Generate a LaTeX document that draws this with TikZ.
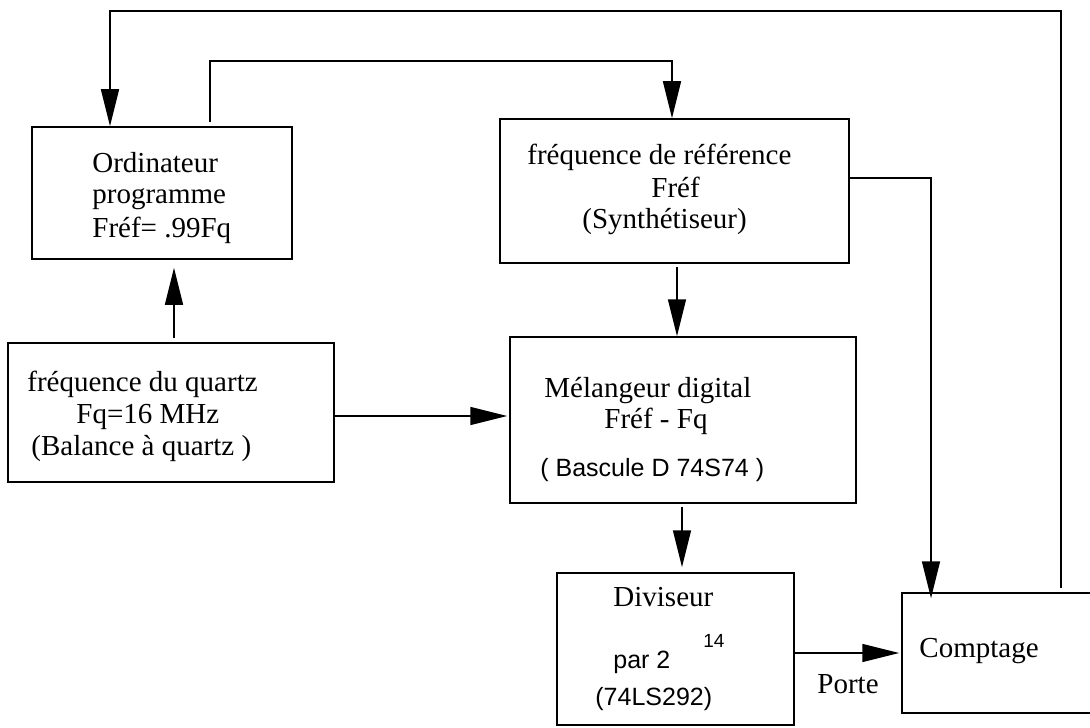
\documentclass[tikz,border=0pt]{standalone}
\usepackage{fontspec}
\setmainfont{Liberation Serif}
\setsansfont{Liberation Sans}
\usetikzlibrary{arrows.meta,calc}
\begin{document}
\begin{tikzpicture}[x=0.5pt,y=-0.5pt,
  box/.style={draw,line width=0.75pt,inner sep=0pt},
  arr/.style={line width=0.75pt,-{Triangle[length=18.5pt,width=9pt]}},
  txt/.style={anchor=base west,inner sep=0pt,font=\fontsize{14.5}{17}\selectfont},
  stxt/.style={anchor=base west,inner sep=0pt,font=\sffamily\fontsize{12.5}{15}\selectfont},
  supx/.style={anchor=base west,inner sep=0pt,font=\sffamily\fontsize{9.5}{11}\selectfont}]
\useasboundingbox (0,0) rectangle (1090,727);

% boxes
\node[box,minimum width=130pt,minimum height=66pt] (ord) at (162,193) {};
\node[box,minimum width=174.5pt,minimum height=72pt] (ref) at (674.5,191) {};
\node[box,minimum width=163pt,minimum height=69.5pt] (quartz) at (171,412.5) {};
\node[box,minimum width=173pt,minimum height=83pt] (mel) at (683,420) {};
\node[box,minimum width=118.5pt,minimum height=76pt] (div) at (675.5,649) {};
\node[box,minimum width=104pt,minimum height=60pt] (comp) at (1006,653) {};

% texts
\node[txt] (t1) at (92,173) {Ordinateur};
\node[txt] (t2) at (92,204) {programme};
\node[txt] (t3) at (92,237) {Fréf= .99Fq};

\node[txt] (r1) at (527,165) {fréquence de référence};
\node[txt] (r2) at (651,198) {Fréf};
\node[txt] (r3) at (582,228) {(Synthétiseur)};

\node[txt] (q1) at (27,391) {fréquence du quartz};
\node[txt] (q2) at (76,423) {Fq=16 MHz};
\node[txt] (q3) at (31,455) {(Balance à quartz )};

\node[txt] (m1) at (544,397) {Mélangeur digital};
\node[txt] (m2) at (604,428) {Fréf - Fq};
\node[stxt] (m3) at (540,476) {( Bascule D 74S74 )};

\node[txt] (d1) at (613,606) {Diviseur};
\node[stxt] (d2) at (613,668) {par 2};
\node[supx] (d3) at (703,647) {14};
\node[stxt] (d4) at (595,705) {(74LS292)};

\node[txt] (c1) at (919,657) {Comptage};
\node[txt] (porte) at (817,693) {Porte};

% connectors
\draw[arr,shorten <=2pt] (1061,0 |- comp.north) -- (1061,11) -- (110,11) -- (110,0 |- ord.north);
\draw[arr,shorten <=2pt] (210,0 |- ord.north) -- (210,61) -- (672,61) -- (672,0 |- ref.north);
\draw[arr,shorten >=-3pt] (ref.east |- 0,178) -- (931,178) -- (931,0 |- comp.north);
\draw[arr,shorten <=1.5pt] (677,0 |- ref.south) -- (677,0 |- mel.north);
\draw[arr,shorten >=1pt] (quartz.east |- 0,416) -- (mel.west |- 0,416);
\draw[arr,shorten <=2pt,shorten >=4pt] (174,0 |- quartz.north) -- (174,0 |- ord.south);
\draw[arr,shorten <=1.5pt,shorten >=2.5pt] (682,0 |- mel.south) -- (682,0 |- div.north);
\draw[arr,shorten >=1pt] (div.east |- 0,653) -- (comp.west |- 0,653);
\end{tikzpicture}
\end{document}
